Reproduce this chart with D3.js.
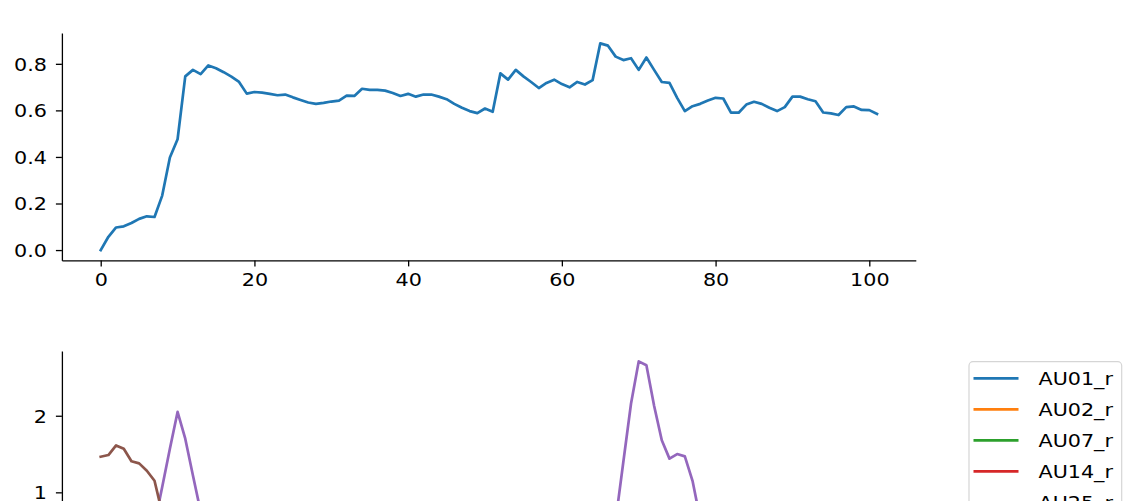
<!DOCTYPE html>
<html>
<head>
<meta charset="utf-8">
<script src="https://cdn.jsdelivr.net/npm/d3@7"></script>
<style>
  html, body { margin: 0; padding: 0; background: #fff; overflow: hidden; }
  svg { display: block; }
  text { font-family: "DejaVu Sans", sans-serif; fill: #000; }
</style>
</head>
<body>
<svg id="chart" width="1136" height="501"></svg>
<script>
// ---------- DATA ----------
const frames = d3.range(0, 102);

// top panel: single series
const topSeries = [
  0.000,0.057,0.097,0.102,0.116,0.134,0.145,0.142,0.234,0.398,
  0.476,0.746,0.774,0.756,0.793,0.781,0.764,0.745,0.722,0.672,
  0.679,0.676,0.671,0.665,0.668,0.656,0.645,0.634,0.628,0.632,
  0.638,0.642,0.663,0.662,0.693,0.688,0.688,0.685,0.675,0.662,
  0.671,0.659,0.668,0.668,0.659,0.648,0.628,0.611,0.597,0.588,
  0.608,0.594,0.759,0.732,0.774,0.746,0.722,0.696,0.718,0.732,
  0.713,0.699,0.722,0.711,0.730,0.888,0.878,0.831,0.816,0.824,
  0.774,0.827,0.774,0.722,0.718,0.654,0.597,0.618,0.628,0.642,
  0.654,0.651,0.590,0.590,0.625,0.637,0.628,0.611,0.597,0.614,
  0.659,0.659,0.648,0.639,0.591,0.587,0.580,0.614,0.617,0.602,
  0.601,0.585
];

// bottom panel: action-unit intensities
const seriesNames = ["AU01_r", "AU02_r", "AU07_r", "AU14_r", "AU25_r", "AU26_r"];

const au01 = [
  0.12,0.10,0.08,0.05,0.03,0.00,0.00,0.00,0.00,0.05,
  0.18,0.32,0.40,0.35,0.22,0.10,0.04,0.00,0.00,0.00,
  0.00,0.00,0.00,0.03,0.08,0.12,0.10,0.06,0.02,0.00,
  0.00,0.00,0.00,0.00,0.04,0.10,0.15,0.12,0.06,0.00,
  0.00,0.00,0.00,0.00,0.00,0.05,0.09,0.11,0.08,0.03,
  0.00,0.00,0.12,0.25,0.30,0.22,0.10,0.02,0.00,0.00,
  0.00,0.00,0.00,0.05,0.20,0.42,0.55,0.48,0.30,0.18,
  0.22,0.30,0.25,0.12,0.04,0.00,0.00,0.00,0.00,0.00,
  0.00,0.03,0.06,0.04,0.00,0.00,0.00,0.00,0.05,0.10,
  0.14,0.10,0.06,0.02,0.00,0.00,0.00,0.00,0.00,0.00,
  0.00,0.00
];
const au02 = [
  0.05,0.04,0.02,0.00,0.00,0.00,0.00,0.00,0.00,0.02,
  0.10,0.20,0.26,0.22,0.14,0.06,0.02,0.00,0.00,0.00,
  0.00,0.00,0.00,0.00,0.02,0.05,0.04,0.02,0.00,0.00,
  0.00,0.00,0.00,0.00,0.00,0.03,0.06,0.05,0.02,0.00,
  0.00,0.00,0.00,0.00,0.00,0.00,0.02,0.04,0.03,0.00,
  0.00,0.00,0.06,0.15,0.18,0.12,0.05,0.00,0.00,0.00,
  0.00,0.00,0.00,0.02,0.12,0.30,0.38,0.33,0.20,0.10,
  0.14,0.20,0.16,0.08,0.02,0.00,0.00,0.00,0.00,0.00,
  0.00,0.00,0.02,0.01,0.00,0.00,0.00,0.00,0.02,0.05,
  0.08,0.05,0.02,0.00,0.00,0.00,0.00,0.00,0.00,0.00,
  0.00,0.00
];
const au07 = [
  0.40,0.42,0.45,0.44,0.40,0.38,0.35,0.30,0.25,0.20,
  0.18,0.22,0.30,0.36,0.40,0.42,0.45,0.48,0.50,0.52,
  0.50,0.47,0.45,0.44,0.46,0.48,0.50,0.52,0.55,0.56,
  0.55,0.53,0.50,0.48,0.47,0.45,0.44,0.46,0.49,0.52,
  0.55,0.57,0.58,0.56,0.54,0.52,0.50,0.48,0.47,0.46,
  0.45,0.44,0.40,0.36,0.35,0.38,0.42,0.45,0.48,0.50,
  0.52,0.53,0.54,0.52,0.48,0.40,0.32,0.28,0.25,0.22,
  0.24,0.28,0.33,0.38,0.42,0.46,0.50,0.52,0.54,0.55,
  0.56,0.55,0.54,0.52,0.50,0.48,0.47,0.49,0.51,0.53,
  0.55,0.57,0.58,0.57,0.55,0.53,0.52,0.51,0.50,0.50,
  0.49,0.48
];
const au14 = [
  0.60,0.62,0.64,0.63,0.60,0.58,0.55,0.50,0.42,0.35,
  0.30,0.32,0.38,0.45,0.50,0.55,0.58,0.60,0.62,0.63,
  0.62,0.60,0.58,0.57,0.58,0.60,0.62,0.64,0.66,0.67,
  0.66,0.64,0.62,0.60,0.58,0.57,0.56,0.58,0.60,0.63,
  0.65,0.67,0.68,0.67,0.65,0.63,0.61,0.60,0.59,0.58,
  0.57,0.56,0.50,0.45,0.44,0.47,0.52,0.56,0.59,0.61,
  0.63,0.64,0.65,0.63,0.58,0.48,0.40,0.35,0.30,0.27,
  0.30,0.35,0.42,0.48,0.53,0.57,0.60,0.62,0.64,0.65,
  0.66,0.65,0.64,0.62,0.60,0.59,0.58,0.60,0.62,0.64,
  0.66,0.67,0.68,0.67,0.66,0.64,0.63,0.62,0.61,0.60,
  0.60,0.59
];
const au25 = [
  0.35,0.30,0.28,0.25,0.22,0.20,0.30,0.58,1.07,1.57,
  2.05,1.70,1.22,0.75,0.52,0.45,0.42,0.40,0.38,0.36,
  0.35,0.34,0.33,0.32,0.33,0.35,0.36,0.35,0.34,0.32,
  0.30,0.29,0.30,0.32,0.34,0.35,0.36,0.35,0.33,0.31,
  0.30,0.29,0.28,0.29,0.30,0.32,0.34,0.36,0.38,0.40,
  0.42,0.45,0.50,0.55,0.52,0.48,0.45,0.42,0.40,0.39,
  0.38,0.38,0.40,0.42,0.45,0.50,0.55,0.63,1.40,2.16,
  2.71,2.66,2.13,1.68,1.44,1.50,1.47,1.15,0.65,0.50,
  0.45,0.42,0.40,0.38,0.37,0.36,0.35,0.34,0.35,0.36,
  0.38,0.40,0.41,0.40,0.38,0.36,0.35,0.34,0.33,0.32,
  0.31,0.30
];
const au26 = [
  1.465,1.487,1.613,1.569,1.405,1.378,1.282,1.151,0.73,0.55,
  0.48,0.45,0.42,0.40,0.38,0.37,0.36,0.35,0.35,0.34,
  0.33,0.32,0.32,0.31,0.32,0.33,0.34,0.33,0.32,0.31,
  0.30,0.30,0.31,0.32,0.33,0.34,0.34,0.33,0.32,0.30,
  0.29,0.28,0.28,0.29,0.30,0.31,0.33,0.35,0.37,0.38,
  0.40,0.42,0.46,0.50,0.48,0.45,0.42,0.40,0.38,0.37,
  0.36,0.36,0.38,0.40,0.43,0.48,0.52,0.55,0.60,0.65,
  0.68,0.66,0.62,0.58,0.55,0.53,0.50,0.46,0.42,0.40,
  0.38,0.37,0.36,0.35,0.34,0.33,0.33,0.32,0.33,0.34,
  0.35,0.36,0.37,0.36,0.35,0.34,0.33,0.32,0.31,0.30,
  0.30,0.29
];
const bottomSeries = [au01, au02, au07, au14, au25, au26];

const xTicks = [0, 20, 40, 60, 80, 100];
const yTicksTop = [0.0, 0.2, 0.4, 0.6, 0.8];
const yTicksBottom = [0, 1, 2];

const colors = ["#1f77b4", "#ff7f0e", "#2ca02c", "#d62728", "#9467bd", "#8c564b"];

// ---------- LAYOUT ----------
const svg = d3.select("#chart");
const SX = 1.15;           // horizontal text stretch of the reference
const FONT = 18;
const xLeft = 61.9, xRight = 915.8;
const topPanel = { y0: 260.4, y1: 33 };
const botPanel = { y0: 579.3, y1: 351 };

function pad(ext) { const r = ext[1] - ext[0]; return [ext[0] - 0.05 * r, ext[1] + 0.05 * r]; }

const x = d3.scaleLinear().domain(pad(d3.extent(frames))).range([xLeft, xRight]);
const yTop = d3.scaleLinear().domain(pad(d3.extent(topSeries))).range([topPanel.y0, topPanel.y1]);
const allBottom = bottomSeries.flat();
const yBot = d3.scaleLinear().domain(pad(d3.extent(allBottom))).range([botPanel.y0, botPanel.y1]);

function stretchText(sel) {
  sel.selectAll("text").each(function () {
    const xx = +this.getAttribute("x") || 0;
    this.setAttribute("x", xx / SX);
  }).attr("transform", `scale(${SX},1)`);
}

function styleAxis(g) {
  g.selectAll(".domain").attr("stroke", "#000").attr("stroke-width", 1.3);
  g.selectAll(".tick line").attr("stroke", "#000").attr("stroke-width", 1.3);
  g.selectAll("text").attr("font-size", FONT).attr("font-family", "DejaVu Sans").attr("fill", "#1a1a1a");
  stretchText(g);
}

function drawPanel(yScale, panel, yTicks, yFmt, seriesList, cols, showXLabels) {
  const gx = svg.append("g").attr("transform", `translate(0,${panel.y0})`)
    .call(d3.axisBottom(x).tickValues(xTicks).tickSize(6).tickPadding(7).tickSizeOuter(0)
      .tickFormat(showXLabels ? d3.format("d") : () => ""));
  styleAxis(gx);
  const gy = svg.append("g").attr("transform", `translate(${xLeft},0)`)
    .call(d3.axisLeft(yScale).tickValues(yTicks).tickSize(6).tickPadding(9).tickSizeOuter(0).tickFormat(yFmt));
  styleAxis(gy);
  gy.selectAll("text").attr("dy", "0.36em");

  const line = d3.line().x((d, i) => x(frames[i])).y(d => yScale(d));
  seriesList.forEach((s, k) => {
    svg.append("path").datum(s)
      .attr("d", line)
      .attr("fill", "none")
      .attr("stroke", cols[k])
      .attr("stroke-width", 2.7)
      .attr("stroke-linejoin", "round")
      .attr("stroke-linecap", "square");
  });
}

drawPanel(yTop, topPanel, yTicksTop, d3.format(".1f"), [topSeries], [colors[0]], true);
// bottom panel's x axis lies below the visible frame; its labels would be off-canvas
drawPanel(yBot, botPanel, yTicksBottom, d3.format("d"), bottomSeries, colors, false);

// ---------- LEGEND ----------
const lg = svg.append("g");
const lgLeft = 969, lgTop = 361.7, lgRight = 1121.7, rowH = 31, firstRow = 378.3;
lg.append("rect")
  .attr("x", lgLeft).attr("y", lgTop)
  .attr("width", lgRight - lgLeft)
  .attr("height", (firstRow - lgTop) * 2 + rowH * (seriesNames.length - 1))
  .attr("rx", 4).attr("ry", 4)
  .attr("fill", "#fff").attr("fill-opacity", 0.8)
  .attr("stroke", "#d5d5d5").attr("stroke-width", 1.2);
seriesNames.forEach((name, k) => {
  const cy = firstRow + k * rowH;
  lg.append("line").attr("x1", 973.5).attr("x2", 1018.5).attr("y1", cy).attr("y2", cy)
    .attr("stroke", colors[k]).attr("stroke-width", 2.7);
  lg.append("text")
    .attr("x", 1038.5 / SX).attr("y", cy).attr("dy", "0.36em")
    .attr("transform", `scale(${SX},1)`)
    .attr("font-size", FONT).attr("fill", "#1a1a1a")
    .text(name);
});
</script>
</body>
</html>
